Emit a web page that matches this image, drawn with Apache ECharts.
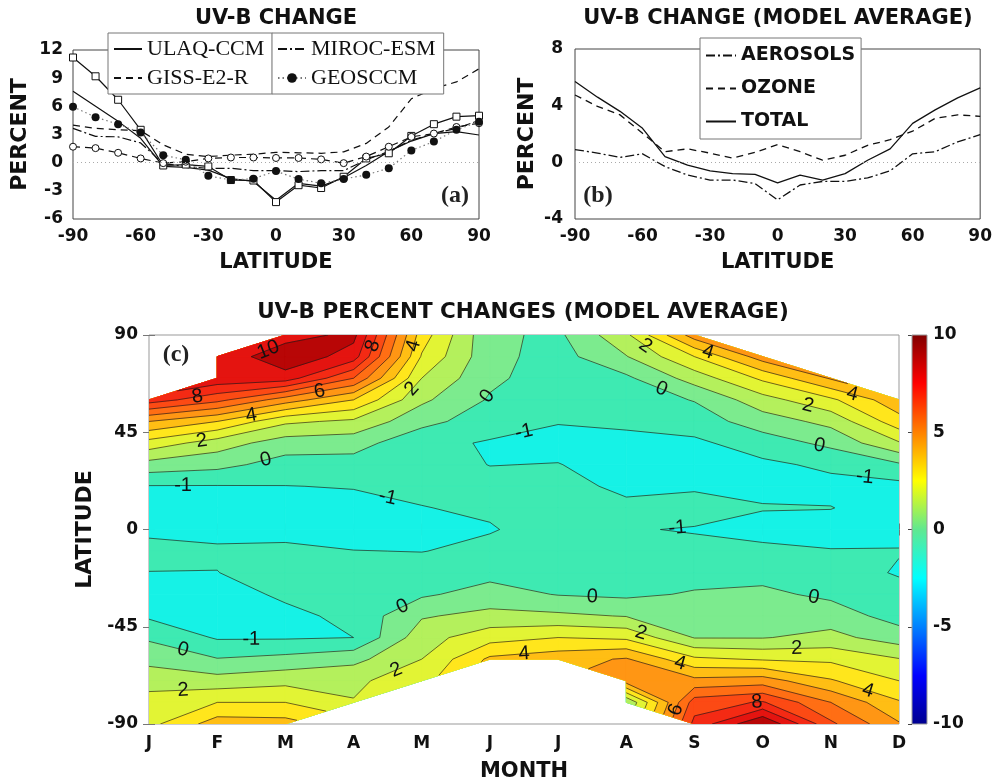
<!DOCTYPE html>
<html><head><meta charset="utf-8">
<script src="https://cdn.jsdelivr.net/npm/echarts@6/dist/echarts.min.js"></script>
<style>html,body{margin:0;padding:0;background:#fff}#chart{width:995px;height:783px}</style>
</head><body><div id="chart"></div>
<script>
// ---------- Panel (a) & (b): latitude profiles ----------
const latitudeTicks = [-90,-80,-70,-60,-50,-40,-30,-20,-10,0,10,20,30,40,50,60,70,80,90];
const ulaqLine    = [7.6, 6.0, 4.4, 2.6, -0.4, -0.5, -0.8, -1.7, -2.0, -4.0, -2.2, -2.5, -1.6, -0.3, 1.2, 2.3, 3.1, 3.3, 2.95];
const ulaqSquares = [11.2, 9.2, 6.7, 3.5, -0.3, -0.2, -0.4, -1.85, -1.9, -4.2, -2.4, -2.7, -1.5, 0.45, 1.0, 2.85, 4.1, 4.9, 5.0];
const gissLine    = [4.0, 3.65, 3.5, 3.4, 1.9, 0.9, 0.65, 0.8, 0.9, 1.1, 1.05, 1.0, 1.15, 2.05, 3.8, 6.8, 7.9, 8.6, 10.0];
const gissCircles = [1.7, 1.55, 1.05, 0.45, -0.05, 0.1, 0.45, 0.55, 0.55, 0.5, 0.5, 0.35, -0.05, 0.65, 1.7, 2.75, 3.1, 3.8, 4.2];
const mirocLine   = [3.65, 2.8, 2.75, 2.1, -0.1, -0.4, -0.6, -0.6, -0.85, -0.85, -0.95, -0.85, -0.85, 0.3, 1.2, 2.4, 3.1, 3.65, 4.5];
const geosLine    = [5.95, 4.85, 4.1, 3.2, 0.8, 0.3, -1.4, -1.85, -1.7, -0.9, -1.75, -2.2, -1.75, -1.3, -0.6, 1.3, 2.25, 3.5, 4.35];

const aerosolLine = [0.9, 0.65, 0.35, 0.6, -0.3, -0.9, -1.25, -1.25, -1.5, -2.65, -1.6, -1.35, -1.35, -1.1, -0.6, 0.6, 0.75, 1.45, 1.95];
const ozoneLine   = [4.75, 3.95, 3.35, 2.05, 0.75, 0.95, 0.65, 0.3, 0.7, 1.25, 0.75, 0.15, 0.5, 1.2, 1.6, 2.2, 3.1, 3.35, 3.25];
const totalLine   = [5.7, 4.6, 3.6, 2.4, 0.4, -0.2, -0.6, -0.8, -0.85, -1.45, -0.9, -1.25, -0.8, 0.15, 0.95, 2.75, 3.7, 4.55, 5.25];

// ---------- Panel (c): month x latitude grid (lat 90 -> -90) ----------
const months = ['J','F','M','A','M','J','J','A','S','O','N','D'];
const contourLats = [90,80,70,60,50,40,30,20,10,0,-10,-20,-30,-40,-50,-60,-70,-80,-90];
const uvbJan = [null, null, null, 8.5, 5.0, 2.6, 0.6, -1.05, -1.3, -1.2, -0.7, -1.02, -1.3, -1.15, -0.15, 0.7, 1.6, 2.4, 2.7];
const uvbFeb = [null, 9.2, 9.7, 7.3, 4.0, 1.5, 0.3, -1.05, -1.4, -1.3, -0.85, -1.02, -1.5, -1.5, -1.1, 0.05, 1.4, 3.0, 4.5];
const uvbMar = [9.5, 10.8, 9.5, 5.5, 2.2, 0.5, -0.4, -1.02, -1.3, -1.3, -0.8, -0.5, -0.8, -1.3, -1.1, 0.3, 1.7, 3.0, 4.4];
const uvbApr = [10.3, 9.5, 7.0, 4.0, 1.8, 0.4, -0.4, -0.95, -1.3, -1.4, -0.98, -0.6, -0.6, -0.7, -1.0, 0.7, 1.8, 2.05, null];
const uvbMay = [3.5, 2.9, 2.0, 1.2, 0.3, -0.7, -0.6, -0.85, -1.02, -1.3, -1.02, -0.6, -0.15, 0.9, 1.6, 2.0, 2.6, null, null];
const uvbJun = [0.2, 0.3, 0.2, -0.1, -0.5, -1.1, -1.02, -0.7, -0.9, -1.05, -0.8, -0.3, 0.4, 1.3, 2.6, 4.2, null, null, null];
const uvbJul = [-0.2, -0.4, -0.5, -0.6, -0.95, -1.3, -0.97, -0.7, -0.5, -0.7, -0.6, -0.4, -0.05, 1.2, 3.0, 4.6, null, null, null];
const uvbAug = [1.8, 0.95, -0.2, -0.5, -0.8, -1.3, -1.4, -1.2, -0.8, -0.95, -0.7, -0.5, -0.2, 0.95, 2.8, 5.1, 5.5, 1.0, null];
const uvbSep = [5.5, 3.0, 1.44, 0.05, -0.5, -1.2, -1.5, -1.1, -0.7, -1.05, -0.8, -0.4, 0.1, 0.6, 0.95, 3.2, 5.3, 7.5, 8.3];
const uvbOct = [null, 5.5, 3.2, 1.6, 0.5, -0.5, -1.2, -1.2, -0.95, -1.3, -0.8, -0.3, 0.2, 0.6, 0.95, 2.9, 5.5, 8.1, 11.0];
const uvbNov = [null, null, 5.1, 2.8, 1.3, 0.25, -0.8, -1.3, -0.97, -1.4, -0.95, -0.5, -0.2, 0.5, 1.3, 2.8, 4.1, 6.0, 7.2];
const uvbDec = [null, null, null, 4.7, 3.6, 1.9, -0.15, -1.3, -1.5, -1.3, -0.95, -1.1, -0.6, -0.4, 0.5, 2.05, 3.0, 4.1, 5.1];
const monthColumns = [uvbJan, uvbFeb, uvbMar, uvbApr, uvbMay, uvbJun, uvbJul, uvbAug, uvbSep, uvbOct, uvbNov, uvbDec];

const contourLevels = [-1,0,1,2,3,4,5,6,7,8,9,10];
const labelLevels = [-1,0,2,4,6,8,10];
const bandColors = ['#16F2E6','#3EEAB2','#7CEB8E','#B4F05C','#E2F434','#FFE61C','#FFBE14','#FF9614','#FF6E14','#FC4A14','#F42A14','#E41410','#B80606'];
const colorbarTicks = [-10,-5,0,5,10];

// ---------- helpers ----------
const FONT = 'DejaVu Sans';
function pairs(xs, ys) { return xs.map((x, i) => [x, ys[i]]); }

function clipGE(poly, L) {
  const out = [];
  for (let i = 0; i < poly.length; i++) {
    const a = poly[i], b = poly[(i + 1) % poly.length];
    const ain = a.v >= L, bin = b.v >= L;
    if (ain) out.push(a);
    if (ain !== bin) {
      const t = (L - a.v) / (b.v - a.v);
      out.push({x: a.x + t * (b.x - a.x), y: a.y + t * (b.y - a.y), v: L});
    }
  }
  return out;
}
function levelSegments(poly, L) {
  const cr = [];
  for (let i = 0; i < poly.length; i++) {
    const a = poly[i], b = poly[(i + 1) % poly.length];
    const ain = a.v >= L, bin = b.v >= L;
    if (ain !== bin) {
      const t = (L - a.v) / (b.v - a.v);
      cr.push({x: a.x + t * (b.x - a.x), y: a.y + t * (b.y - a.y), exit: ain});
    }
  }
  const segs = [];
  if (cr.length < 2) return segs;
  for (let m = 0; m < cr.length; m++) {
    if (cr[m].exit) segs.push([cr[m], cr[(m + 1) % cr.length]]);
  }
  return segs;
}

function renderContour(params, api) {
  const fillsByBand = bandColors.map(() => []);
  const lines = [], labels = [];
  const segByLevel = {};
  const P = (q) => api.coord([q.x, q.y]);
  for (let i = 0; i < monthColumns.length - 1; i++) {
    for (let j = 0; j < contourLats.length - 1; j++) {
      const corners = [[i, j], [i + 1, j], [i + 1, j + 1], [i, j + 1]].map(([m, l]) =>
        ({x: m, y: contourLats[l], v: monthColumns[m][l]}));
      const poly = corners.filter(c => c.v !== null && c.v !== undefined);
      if (poly.length < 3) continue;
      for (let k = 0; k < bandColors.length; k++) {
        const p = k === 0 ? poly : clipGE(poly, contourLevels[k - 1]);
        if (p.length < 3) break;
        fillsByBand[k].push({type: 'polygon', shape: {points: p.map(P)},
          style: {fill: bandColors[k], stroke: bandColors[k], lineWidth: 0.8}});
      }
      contourLevels.forEach(L => {
        levelSegments(poly, L).forEach(s => {
          const a = P(s[0]), b = P(s[1]);
          lines.push({type: 'line', shape: {x1: a[0], y1: a[1], x2: b[0], y2: b[1]},
            style: {stroke: 'rgba(25,25,25,0.8)', lineWidth: 0.8}});
          (segByLevel[L] = segByLevel[L] || []).push([a, b]);
        });
      });
    }
  }
  const tl = api.coord([0, 90]), br = api.coord([monthColumns.length - 1, -90]);
  const placed = [];
  labelLevels.forEach(L => {
    (segByLevel[L] || []).forEach(([a, b]) => {
      const dx = b[0] - a[0], dy = b[1] - a[1];
      const len = Math.hypot(dx, dy);
      if (len < 8) return;
      const mx = (a[0] + b[0]) / 2, my = (a[1] + b[1]) / 2;
      if (mx < tl[0] + 14 || mx > br[0] - 14 || my < tl[1] + 10 || my > br[1] - 10) return;
      if (placed.some(p => Math.hypot(p.x - mx, p.y - my) < (p.L === L ? 150 : 40))) return;
      let ang = Math.atan2(dy, dx);
      if (ang > Math.PI / 2) ang -= Math.PI;
      if (ang < -Math.PI / 2) ang += Math.PI;
      placed.push({x: mx, y: my, L});
      labels.push({type: 'text', x: mx, y: my, rotation: -ang,
        style: {text: String(L), fill: '#111', font: '20px "Liberation Sans"', align: 'center', verticalAlign: 'middle'}});
    });
  });
  const fills = [].concat(...fillsByBand);
  return {type: 'group', children: fills.concat(lines, labels)};
}

function renderColorbar(params, api) {
  const a = api.coord([0, 10]), b = api.coord([1, -10]);
  return {type: 'rect', shape: {x: a[0], y: a[1], width: b[0] - a[0], height: b[1] - a[1]},
    style: {fill: new echarts.graphic.LinearGradient(0, 0, 0, 1, [
      {offset: 0, color: '#800000'}, {offset: 0.125, color: '#FF0000'}, {offset: 0.25, color: '#FF8000'},
      {offset: 0.375, color: '#FFFF00'}, {offset: 0.5, color: '#60E890'}, {offset: 0.625, color: '#00FFFF'},
      {offset: 0.75, color: '#0080FF'}, {offset: 0.875, color: '#0000FF'}, {offset: 1, color: '#00008F'}]),
      stroke: '#999', lineWidth: 1}};
}

const tickLabel = {fontFamily: FONT, fontWeight: 'bold', fontSize: 17, color: '#111'};
const nameStyle = {fontFamily: FONT, fontWeight: 'bold', fontSize: 21, color: '#111'};

function latAxis(gridIndex) {
  return {gridIndex, type: 'value', min: -90, max: 90, interval: 30,
    name: 'LATITUDE', nameLocation: 'middle', nameGap: 33, nameTextStyle: nameStyle,
    axisLine: {show: false}, axisTick: {show: false}, splitLine: {show: false},
    axisLabel: Object.assign({margin: 9}, tickLabel)};
}
const noSymbol = {opacity: 0};

const chart = echarts.init(document.getElementById('chart'), null, {renderer: 'canvas'});
const option = {
  animation: false,
  backgroundColor: '#fff',
  graphic: [
    {type: 'text', x: 276, y: 19, style: {text: 'UV-B CHANGE', font: 'bold 21px "DejaVu Sans"', fill: '#111', align: 'center', verticalAlign: 'middle'}},
    {type: 'text', x: 778, y: 19, style: {text: 'UV-B CHANGE (MODEL AVERAGE)', font: 'bold 21px "DejaVu Sans"', fill: '#111', align: 'center', verticalAlign: 'middle'}},
    {type: 'text', x: 523, y: 312, style: {text: 'UV-B PERCENT CHANGES (MODEL AVERAGE)', font: 'bold 21.5px "DejaVu Sans"', fill: '#111', align: 'center', verticalAlign: 'middle'}},
    {type: 'text', x: 455, y: 196, z: 10, style: {text: '(a)', font: 'bold 24px "Liberation Serif"', fill: '#222', align: 'center', verticalAlign: 'middle'}},
    {type: 'text', x: 598, y: 196, z: 10, style: {text: '(b)', font: 'bold 24px "Liberation Serif"', fill: '#222', align: 'center', verticalAlign: 'middle'}},
    {type: 'text', x: 176, y: 355, z: 10, style: {text: '(c)', font: 'bold 24px "Liberation Serif"', fill: '#222', align: 'center', verticalAlign: 'middle'}}
  ],
  grid: [
    {left: 73, top: 50, width: 406, height: 169, show: true, borderColor: '#444', borderWidth: 1, backgroundColor: 'transparent'},
    {left: 575, top: 49, width: 406, height: 170, show: true, borderColor: '#444', borderWidth: 1, backgroundColor: 'transparent'},
    {left: 149, top: 335, width: 750, height: 389, show: true, borderColor: '#999', borderWidth: 1, backgroundColor: 'transparent'},
    {left: 912, top: 335, width: 15, height: 389, show: false}
  ],
  legend: [
    {data: [{name: 'ULAQ-CCM', itemStyle: noSymbol}, {name: 'GISS-E2-R', itemStyle: noSymbol}],
      left: 108, top: 33, orient: 'vertical', itemGap: 7, itemWidth: 28, itemHeight: 12,
      padding: [5, 8, 5, 5], borderColor: '#777', borderWidth: 1, backgroundColor: '#fff',
      textStyle: {fontFamily: 'Liberation Serif', fontSize: 22, color: '#111'}},
    {data: [{name: 'MIROC-ESM', itemStyle: noSymbol}, 'GEOSCCM'],
      left: 272, top: 33, orient: 'vertical', itemGap: 7, itemWidth: 28, itemHeight: 12,
      padding: [5, 8, 5, 5], borderColor: '#777', borderWidth: 1, backgroundColor: '#fff',
      textStyle: {fontFamily: 'Liberation Serif', fontSize: 22, color: '#111'}},
    {data: [{name: 'AEROSOLS', itemStyle: noSymbol}, {name: 'OZONE', itemStyle: noSymbol}, {name: 'TOTAL', itemStyle: noSymbol}],
      left: 700, top: 38, orient: 'vertical', itemGap: 14, itemWidth: 30, itemHeight: 12,
      padding: [8, 6, 8, 5], borderColor: '#777', borderWidth: 1, backgroundColor: '#fff',
      textStyle: {fontFamily: FONT, fontWeight: 'bold', fontSize: 19, color: '#111'}}
  ],
  xAxis: [
    latAxis(0),
    latAxis(1),
    {gridIndex: 2, type: 'value', min: 0, max: 11, interval: 1, name: 'MONTH', nameLocation: 'middle', nameGap: 37,
      nameTextStyle: nameStyle, axisLine: {show: false}, splitLine: {show: false},
      axisTick: {show: true, inside: true, length: 6, lineStyle: {color: '#777'}},
      axisLabel: Object.assign({margin: 11, formatter: v => months[v] || ''}, tickLabel)},
    {gridIndex: 2, type: 'value', min: 0, max: 11, interval: 1, position: 'top', axisLine: {show: false}, splitLine: {show: false},
      axisTick: {show: true, inside: true, length: 6, lineStyle: {color: '#777'}}, axisLabel: {show: false}},
    {gridIndex: 3, type: 'value', min: 0, max: 1, show: false}
  ],
  yAxis: [
    {gridIndex: 0, type: 'value', min: -6, max: 12, interval: 3, name: 'PERCENT', nameLocation: 'middle', nameGap: 42,
      nameTextStyle: Object.assign({}, nameStyle, {fontSize: 22}), axisLine: {show: false}, axisTick: {show: false},
      splitLine: {show: false}, axisLabel: Object.assign({margin: 10}, tickLabel)},
    {gridIndex: 1, type: 'value', min: -4, max: 8, interval: 4, name: 'PERCENT', nameLocation: 'middle', nameGap: 37,
      nameTextStyle: Object.assign({}, nameStyle, {fontSize: 22}), axisLine: {show: false}, axisTick: {show: false},
      splitLine: {show: false}, axisLabel: Object.assign({margin: 12}, tickLabel)},
    {gridIndex: 2, type: 'value', min: -90, max: 90, interval: 45, name: 'LATITUDE', nameLocation: 'middle', nameGap: 52,
      nameTextStyle: Object.assign({}, nameStyle, {fontSize: 22}), axisLine: {show: false}, splitLine: {show: false},
      axisTick: {show: true, inside: true, length: 6, lineStyle: {color: '#777'}},
      axisLabel: Object.assign({margin: 11}, tickLabel)},
    {gridIndex: 2, type: 'value', min: -90, max: 90, interval: 45, position: 'right', axisLine: {show: false},
      splitLine: {show: false}, axisTick: {show: true, inside: true, length: 6, lineStyle: {color: '#777'}}, axisLabel: {show: false}},
    {gridIndex: 3, type: 'value', min: -10, max: 10, interval: 5, position: 'right', axisLine: {show: false},
      splitLine: {show: false}, axisTick: {show: true, inside: true, length: 4, lineStyle: {color: '#444'}},
      axisLabel: Object.assign({margin: 6}, tickLabel)}
  ],
  series: [
    {name: 'ULAQ-CCM', type: 'line', xAxisIndex: 0, yAxisIndex: 0, data: pairs(latitudeTicks, ulaqLine),
      symbol: 'none', lineStyle: {color: '#111', width: 1.2, type: 'solid'}, itemStyle: {color: '#111'},
      markLine: {silent: true, symbol: 'none', label: {show: false}, data: [{yAxis: 0}],
        lineStyle: {color: '#aaa', type: [1, 3], width: 1}}},
    {name: 'ULAQ-CCM (squares)', type: 'line', xAxisIndex: 0, yAxisIndex: 0, data: pairs(latitudeTicks, ulaqSquares),
      symbol: 'rect', symbolSize: 7, lineStyle: {color: '#111', width: 1.2}, itemStyle: {color: '#fff', borderColor: '#111', borderWidth: 1}},
    {name: 'GISS-E2-R', type: 'line', xAxisIndex: 0, yAxisIndex: 0, data: pairs(latitudeTicks, gissLine),
      symbol: 'none', lineStyle: {color: '#111', width: 1.2, type: [7, 5]}, itemStyle: {color: '#111'}},
    {name: 'GISS-E2-R (circles)', type: 'line', xAxisIndex: 0, yAxisIndex: 0, data: pairs(latitudeTicks, gissCircles),
      symbol: 'circle', symbolSize: 7, lineStyle: {color: '#111', width: 1.2, type: [7, 5]}, itemStyle: {color: '#fff', borderColor: '#111', borderWidth: 1}},
    {name: 'MIROC-ESM', type: 'line', xAxisIndex: 0, yAxisIndex: 0, data: pairs(latitudeTicks, mirocLine),
      symbol: 'none', lineStyle: {color: '#111', width: 1.2, type: [9, 3, 2, 3]}, itemStyle: {color: '#111'}},
    {name: 'GEOSCCM', type: 'line', xAxisIndex: 0, yAxisIndex: 0, data: pairs(latitudeTicks, geosLine),
      symbol: 'circle', symbolSize: 8, lineStyle: {color: '#777', width: 1.2, type: [1.5, 3]}, itemStyle: {color: '#111'}},

    {name: 'AEROSOLS', type: 'line', xAxisIndex: 1, yAxisIndex: 1, data: pairs(latitudeTicks, aerosolLine),
      symbol: 'none', lineStyle: {color: '#111', width: 1.3, type: [9, 3, 2, 3]}, itemStyle: {color: '#111'},
      markLine: {silent: true, symbol: 'none', label: {show: false}, data: [{yAxis: 0}],
        lineStyle: {color: '#aaa', type: [1, 3], width: 1}}},
    {name: 'OZONE', type: 'line', xAxisIndex: 1, yAxisIndex: 1, data: pairs(latitudeTicks, ozoneLine),
      symbol: 'none', lineStyle: {color: '#111', width: 1.3, type: [7, 5]}, itemStyle: {color: '#111'}},
    {name: 'TOTAL', type: 'line', xAxisIndex: 1, yAxisIndex: 1, data: pairs(latitudeTicks, totalLine),
      symbol: 'none', lineStyle: {color: '#111', width: 1.3}, itemStyle: {color: '#111'}},

    {name: 'UV-B percent change', type: 'custom', xAxisIndex: 2, yAxisIndex: 2, coordinateSystem: 'cartesian2d',
      data: [[0, 0]], encode: {x: 0, y: 1}, renderItem: renderContour, silent: true, clip: true},
    {name: 'colorbar', type: 'custom', xAxisIndex: 4, yAxisIndex: 4, coordinateSystem: 'cartesian2d',
      data: [[0, colorbarTicks[0]]], encode: {x: 0, y: 1}, renderItem: renderColorbar, silent: true}
  ]
};
chart.setOption(option);
</script></body></html>
